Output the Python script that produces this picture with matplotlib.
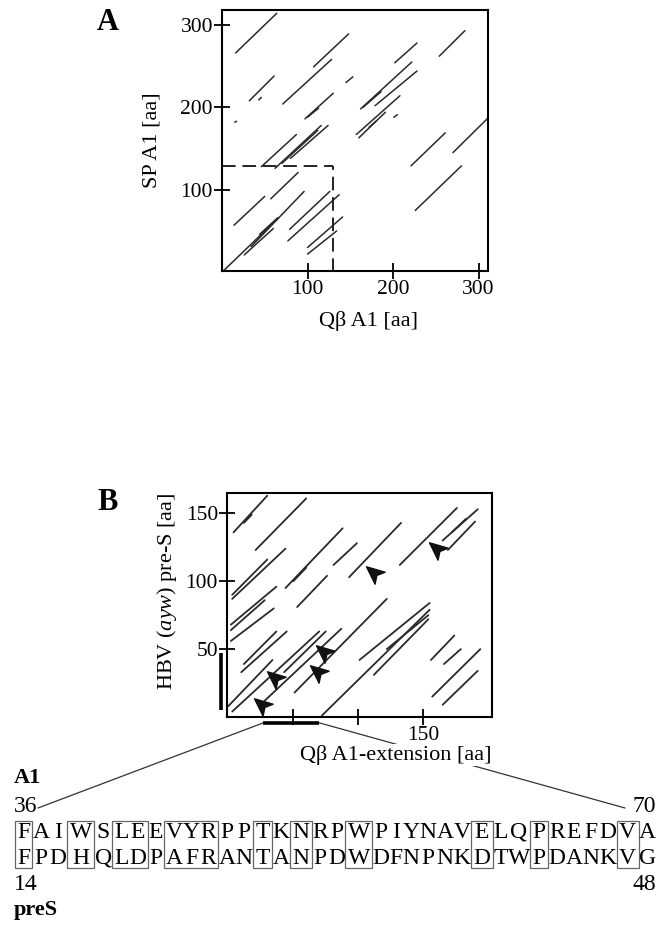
import matplotlib
matplotlib.use('Agg')
import matplotlib.pyplot as plt
import numpy as np
from matplotlib.patches import Rectangle, ConnectionPatch
from matplotlib.path import Path
from matplotlib.markers import MarkerStyle
from matplotlib.transforms import Affine2D, blended_transform_factory
from matplotlib.font_manager import FontProperties

plt.rcParams['font.family'] = ['Liberation Serif', 'DejaVu Serif']
plt.rcParams['mathtext.fontset'] = 'custom'
plt.rcParams['mathtext.rm'] = 'Liberation Serif'
plt.rcParams['mathtext.it'] = 'Liberation Serif:italic'

# ---------------- data: panel A (Qbeta A1 vs SP A1 dot-plot diagonals) ----------------
a_qb0 = [16, 107, 71, 32, 43, 97, 100, 145, 15, 202, 254, 162, 165, 179, 157, 160, 172, 201,
         221, 270, 226, 0, 14, 57, 26, 34, 44, 79, 77, 100, 100, 46, 62, 70, 80]
a_sp0 = [266, 249, 204, 208, 209, 186, 188, 230, 182, 254, 262, 198, 200, 202, 167, 163, 176, 188,
         129, 145, 75, 0, 57, 89, 21, 31, 46, 52, 38, 30, 22, 128, 126, 132, 138]
a_qb1 = [64, 148, 128, 61, 46, 130, 113, 153, 17, 228, 284, 222, 186, 228, 208, 191, 180, 205,
         261, 311, 280, 66, 50, 89, 60, 96, 65, 126, 137, 141, 134, 87, 116, 112, 124]
a_sp1 = [314, 289, 258, 238, 212, 217, 199, 237, 183, 278, 293, 255, 219, 244, 214, 194, 183, 191,
         169, 187, 129, 66, 92, 121, 53, 98, 66, 98, 94, 67, 50, 167, 178, 172, 178]
a_box_x = 130   # dashed region boundary (Qbeta A1)
a_box_y = 129   # dashed region boundary (SP A1)

# ---------------- data: panel B (Qbeta A1-extension vs HBV preS) ----------------
b_qb0 = [4, 12, 21, 44, 50, 81, 93, 132, 165, 172, 169, 53, 3, 3, 2, 2, 2, 12, 10, 0, 3, 28,
         43, 51, 72, 101, 112, 122, 156, 166, 157, 165]
b_ps0 = [136, 143, 123, 95, 100, 112, 103, 112, 130, 136, 123, 81, 87, 90, 68, 64, 56, 39, 33, 8,
         4, 12, 33, 18, 1, 42, 31, 50, 42, 39, 15, 9]
b_qb1 = [30, 18, 60, 88, 60, 99, 133, 176, 192, 183, 190, 76, 44, 30, 37, 28, 35, 37, 45, 34,
         70, 87, 75, 122, 155, 155, 154, 154, 174, 179, 194, 192]
b_ps1 = [163, 149, 161, 139, 110, 128, 143, 154, 153, 146, 144, 104, 124, 116, 96, 86, 80, 63,
         63, 42, 63, 65, 63, 87, 79, 84, 72, 75, 60, 50, 50, 34]
arrow_qb = [26, 36, 69, 74, 112, 161]
arrow_ps = [9, 29, 33, 48, 106, 124]
bar_qb = (27, 70)     # highlighted A1 segment on x axis
bar_ps = (5, 47)      # highlighted preS segment on y axis

# ---------------- data: aligned sequences ----------------
seq_a1 = "FAIWSLEEVYRPPTKNRPWPIYNAVELQPREFDVA"
seq_pres = "FPDHQLDPAFRANTANPDWDFNPNKDTWPDANKVG"
box_cols = [(1, 1), (4, 4), (6, 7), (9, 11), (14, 14), (16, 16), (19, 19), (26, 26), (29, 29), (34, 34)]
a1_start, a1_end = "36", "70"
pres_start, pres_end = "14", "48"

W, H = 657, 940
fig = plt.figure(figsize=(W / 100, H / 100), dpi=100)

ov = fig.add_axes([0, 0, 1, 1])
ov.set_xlim(0, W)
ov.set_ylim(H, 0)
ov.axis('off')
ov.set_zorder(-1)


def px_axes(l, t, r, b):
    return fig.add_axes([l / W, 1 - b / H, (r - l) / W, (b - t) / H])


LC = '#2a2a2a'

# ---------------- Panel A ----------------
axA = px_axes(222, 10, 488, 271)
for x0, y0, x1, y1 in zip(a_qb0, a_sp0, a_qb1, a_sp1):
    axA.plot([x0, x1], [y0, y1], color=LC, lw=1.1, solid_capstyle='round')
axA.plot([0, a_box_x], [a_box_y, a_box_y], color='#222222', lw=1.4, ls=(0, (7, 3.5)))
axA.plot([a_box_x, a_box_x], [0, a_box_y], color='#222222', lw=1.4, ls=(0, (7, 3.5)))
axA.set_xlim(0, 311)
axA.set_ylim(1.5, 318)
axA.set_xticks([100, 200, 300])
axA.set_yticks([100, 200, 300])
axA.tick_params(direction='inout', length=11, width=1.3, labelsize=15.5, pad=1)
for s in axA.spines.values():
    s.set_linewidth(1.5)
axA.set_xlabel('Qβ A1 [aa]', fontsize=16)
axA.xaxis.set_label_coords(0.549, -0.19)
axA.xaxis.label.set_va('center')
axA.set_ylabel('SP A1 [aa]', fontsize=16)
axA.yaxis.set_label_coords(-0.263, 0.502)
axA.yaxis.label.set_va('center')

# ---------------- Panel B ----------------
axB = px_axes(227, 493, 492, 717)
for x0, y0, x1, y1 in zip(b_qb0, b_ps0, b_qb1, b_ps1):
    axB.plot([x0, x1], [y0, y1], color=LC, lw=1.3, solid_capstyle='round')

arrow_path = Path([(1.0, 0.0), (-0.7, 0.75), (-0.3, 0.0), (-0.7, -0.75), (1.0, 0.0)],
                  [Path.MOVETO, Path.LINETO, Path.LINETO, Path.LINETO, Path.CLOSEPOLY])
mk = MarkerStyle(arrow_path, transform=Affine2D().rotate_deg(140))
axB.plot(arrow_qb, arrow_ps, ls='none', marker=mk, markersize=15, color='#111111')

axB.set_xlim(-1, 203)
axB.set_ylim(0, 165)
axB.set_xticks([50, 100, 150])
axB.set_xticklabels(['', '', '150'])
axB.set_yticks([50, 100, 150])
axB.tick_params(direction='inout', length=11, width=1.3, labelsize=15.5, pad=1)
for s in axB.spines.values():
    s.set_linewidth(1.5)
axB.set_xlabel('Qβ A1-extension [aa]', fontsize=16,
               bbox=dict(facecolor='white', edgecolor='none', pad=1))
axB.xaxis.set_label_coords(1.0, -0.17)
axB.xaxis.label.set_ha('right')
axB.xaxis.label.set_va('center')
axB.set_ylabel(r'HBV ($\mathit{ayw}$) pre-S [aa]', fontsize=16)
axB.yaxis.set_label_coords(-0.226, 0.5625)
axB.yaxis.label.set_va('center')

tx = blended_transform_factory(axB.transData, axB.transAxes)
ty = blended_transform_factory(axB.transAxes, axB.transData)
axB.plot(bar_qb, [-0.026, -0.026], transform=tx, color='black', lw=2.6, clip_on=False,
         solid_capstyle='butt')
axB.plot([-0.021, -0.021], bar_ps, transform=ty, color='black', lw=2.6, clip_on=False,
         solid_capstyle='butt')

# connectors from bar to sequence block
for xq, target in ((bar_qb[0], (38, 808)), (bar_qb[1], (625, 808))):
    cp = ConnectionPatch(xyA=(xq, -0.026), coordsA=tx, xyB=target, coordsB=ov.transData,
                         color='#333333', lw=0.9)
    cp.set_zorder(-0.5)
    fig.add_artist(cp)

# panel letters
ov.text(108, 23, 'A', fontsize=22, fontweight='bold', ha='center', va='center')
ov.text(108, 503, 'B', fontsize=22, fontweight='bold', ha='center', va='center')

# ---------------- sequence alignment block ----------------
fs_seq = 17
fp = FontProperties(family='Liberation Serif', size=fs_seq)
renderer = fig.canvas.get_renderer()


def tw(s):
    w, h, d = renderer.get_text_width_height_descent(s, fp, ismath=False)
    return w


pad = 3.0
box_starts = {a for a, b in box_cols}
box_ends = {b for a, b in box_cols}
colw = []
for i, (c1, c2) in enumerate(zip(seq_a1, seq_pres), start=1):
    w = max(tw(c1), tw(c2))
    if i in box_starts:
        w += pad
    if i in box_ends:
        w += pad
    colw.append(w)
colw = np.array(colw)
x_left, x_right = 14.0, 656.0
scale = (x_right - x_left) / colw.sum()
colw = colw * scale
edges = x_left + np.concatenate([[0], np.cumsum(colw)])
centers = []
for i in range(len(colw)):
    l, r = edges[i], edges[i + 1]
    if (i + 1) in box_starts:
        l += pad * scale
    if (i + 1) in box_ends:
        r -= pad * scale
    centers.append((l + r) / 2)

y_row1, y_row2 = 832, 858
for c1, c2, xc in zip(seq_a1, seq_pres, centers):
    ov.text(xc, y_row1, c1, fontsize=fs_seq, ha='center', va='center')
    ov.text(xc, y_row2, c2, fontsize=fs_seq, ha='center', va='center')
for a, b in box_cols:
    l = edges[a - 1] + 0.5
    r = edges[b] - 0.5
    ov.add_patch(Rectangle((l, 821), r - l, 47, fill=False, edgecolor='#666666', lw=0.9))

ov.text(14, 778, 'A1', fontsize=16, fontweight='bold', ha='left', va='center')
ov.text(14, 806, a1_start, fontsize=17, ha='left', va='center')
ov.text(656, 806, a1_end, fontsize=17, ha='right', va='center')
ov.text(14, 885, pres_start, fontsize=17, ha='left', va='center')
ov.text(656, 885, pres_end, fontsize=17, ha='right', va='center')
ov.text(14, 910, 'preS', fontsize=16, fontweight='bold', ha='left', va='center')

fig.savefig('out.png', dpi=100)
